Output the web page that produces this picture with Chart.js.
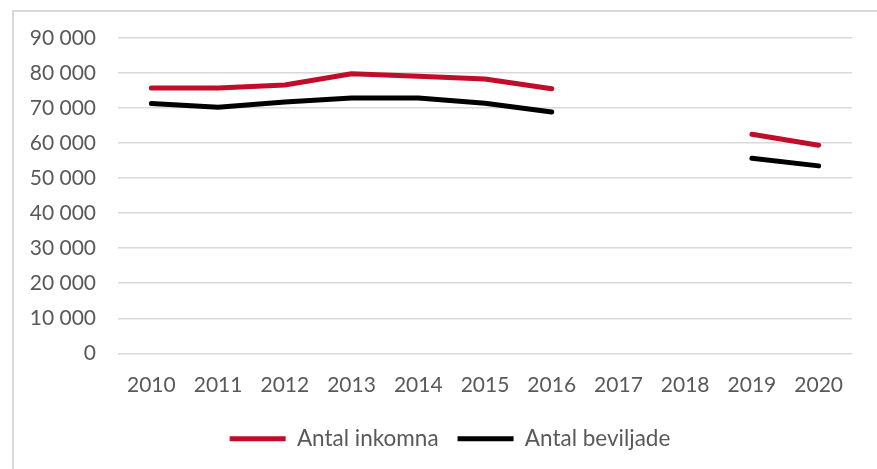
<!DOCTYPE html>
<html>
<head>
<meta charset="utf-8">
<script src="https://cdn.jsdelivr.net/npm/chart.js@4/dist/chart.umd.min.js"></script>
<style>
  body { margin: 0; background: #fff; }
  #wrap { position: relative; width: 877px; height: 469px; overflow: hidden; }
  #frame { position: absolute; left: 12px; top: 10px; width: 900px; height: 500px; border: 2px solid #d9d9d9; box-sizing: border-box; }
  #chart { position: absolute; left: 0; top: 0; }
</style>
</head>
<body>
<div id="wrap">
  <div id="frame"></div>
  <canvas id="chart" width="877" height="469"></canvas>
</div>
<script>
// Years on the x axis
const years = ['2010', '2011', '2012', '2013', '2014', '2015', '2016', '2017', '2018', '2019', '2020'];

// Series values (no data for 2017 and 2018)
const inkomna = [75700, 75700, 76600, 79800, 79100, 78300, 75500, null, null, 62500, 59400];
const beviljade = [71300, 70200, 71700, 72900, 72900, 71400, 68900, null, null, 55700, 53500];

const textColor = '#595959';
const fontFamily = 'Lato, "Open Sans", sans-serif';

// format numbers like "90 000"
function formatNumber(value) {
  return value.toString().replace(/\B(?=(\d{3})+(?!\d))/g, ' ');
}

// nudge the legend a bit to the right, like in the original
const legendShift = {
  id: 'legendShift',
  afterLayout(chart) {
    chart.legend.left += 24;
    chart.legend.right += 24;
  }
};

new Chart(document.getElementById('chart'), {
  type: 'line',
  data: {
    labels: years,
    datasets: [{
      label: 'Antal inkomna',
      data: inkomna,
      borderColor: '#C00D2A',
      backgroundColor: '#C00D2A',
      borderWidth: 5,
      borderCapStyle: 'round',
      borderJoinStyle: 'round',
      pointRadius: 0,
      tension: 0
    }, {
      label: 'Antal beviljade',
      data: beviljade,
      borderColor: '#000000',
      backgroundColor: '#000000',
      borderWidth: 5,
      borderCapStyle: 'round',
      borderJoinStyle: 'round',
      pointRadius: 0,
      tension: 0
    }]
  },
  plugins: [legendShift],
  options: {
    responsive: false,
    animation: false,
    layout: {
      padding: { top: 38, right: 25, bottom: 9, left: 0 }
    },
    plugins: {
      tooltip: { enabled: false },
      legend: {
        position: 'bottom',
        labels: {
          usePointStyle: true,
          pointStyle: 'line',
          pointStyleWidth: 56,
          boxHeight: 20,
          padding: 19,
          color: textColor,
          font: { family: fontFamily, size: 22.5 }
        }
      }
    },
    scales: {
      x: {
        offset: true,
        grid: { display: false },
        border: { display: false },
        ticks: {
          color: textColor,
          padding: 11,
          maxRotation: 0,
          font: { family: fontFamily, size: 21 }
        }
      },
      y: {
        min: 0,
        max: 90000,
        afterFit: function(scale) { scale.width = 118; },
        grid: { color: '#d9d9d9', lineWidth: 1.5, drawTicks: false },
        border: { display: false },
        ticks: {
          stepSize: 10000,
          color: textColor,
          padding: 22,
          font: { family: fontFamily, size: 21 },
          callback: function(value) { return formatNumber(value); }
        }
      }
    }
  }
});
</script>
</body>
</html>
